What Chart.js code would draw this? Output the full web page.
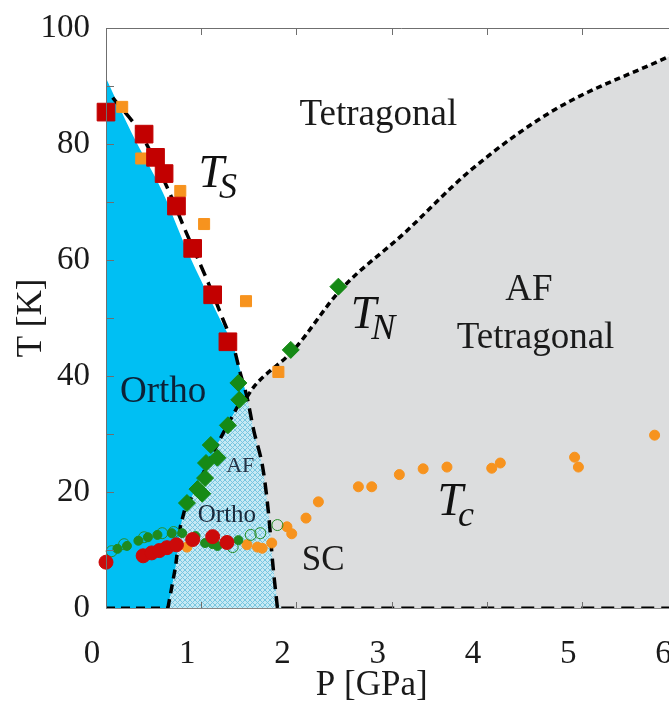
<!DOCTYPE html>
<html>
<head>
<meta charset="utf-8">
<script src="https://cdn.jsdelivr.net/npm/chart.js"></script>
<style>
  html, body { margin: 0; padding: 0; background: #fff; overflow: hidden; }
  #wrap { width: 710px; height: 703px; }
</style>
</head>
<body>
<div id="wrap"><canvas id="phaseChart" width="710" height="703"></canvas></div>
<script>
// tick labels
var xTicks = [0, 1, 2, 3, 4, 5, 6];
var yTicks = [0, 20, 40, 60, 80, 100];

// structural transition T_S (big red squares, small orange squares)
var tsRedP = [0.0, 0.40, 0.52, 0.61, 0.74, 0.91, 1.12, 1.28];
var tsRedT = [85.5, 81.7, 77.7, 74.9, 69.3, 62.0, 54.0, 45.9];
var tsOrangeP = [0.17, 0.37, 0.78, 1.03, 1.47, 1.81];
var tsOrangeT = [86.4, 77.5, 71.9, 66.2, 52.9, 40.7];

// magnetic transition T_N (green diamonds)
var tnP = [0.85, 0.96, 1.01, 1.04, 1.05, 1.10, 1.17, 1.28, 1.39, 1.40, 1.94, 2.44];
var tnT = [18.1, 20.5, 19.7, 22.4, 25.0, 28.1, 25.9, 31.5, 38.8, 35.9, 44.5, 55.4];

// superconducting Tc
var tcRedP = [0.0, 0.39, 0.48, 0.56, 0.64, 0.74, 0.91, 1.12, 1.27];
var tcRedT = [7.9, 9.0, 9.5, 9.9, 10.4, 10.9, 11.8, 12.3, 11.3];
var tcGreenP = [0.12, 0.22, 0.34, 0.44, 0.54, 0.69, 0.80, 0.94, 1.04, 1.12, 1.17, 1.39];
var tcGreenT = [10.2, 10.7, 11.6, 12.2, 12.6, 12.9, 12.9, 12.4, 11.2, 11.0, 10.7, 11.7];
var tcOpenP = [0.06, 0.19, 0.40, 0.59, 0.71, 1.33, 1.52, 1.62, 1.80];
var tcOpenT = [9.8, 11.0, 12.2, 12.9, 13.1, 10.5, 12.6, 12.9, 14.3];
var tcOrangeP = [0.85, 1.48, 1.59, 1.64, 1.74, 1.90, 1.95, 2.10, 2.23, 2.65, 2.79, 3.08, 3.33, 3.58, 4.05, 4.14, 4.92, 4.96, 5.76];
var tcOrangeT = [10.5, 10.9, 10.5, 10.3, 11.2, 14.0, 12.8, 15.5, 18.3, 20.9, 20.9, 23.0, 24.0, 24.3, 24.1, 25.0, 26.0, 24.3, 29.8];

// phase boundaries
var tsLineP = [0.07, 0.36, 0.67, 0.83, 1.06, 1.23, 1.34, 1.41, 1.48, 1.55, 1.65, 1.71, 1.75, 1.80];
var tsLineT = [88.0, 81.9, 71.5, 65.2, 56.6, 49.7, 45.0, 40.5, 36.4, 30.7, 23.8, 15.7, 7.8, 0];
var tnUpperP = [1.48, 1.55, 1.97, 2.46, 3.13, 3.83, 4.71, 5.90, 6.20];
var tnUpperT = [36.4, 38.1, 44.5, 54.8, 64.6, 75.5, 85.9, 95.0, 97.3];
var tnLowerP = [0.65, 0.73, 0.78, 0.83, 0.88, 1.18, 1.38, 1.48];
var tnLowerT = [0, 7.1, 14.0, 17.2, 18.5, 28.6, 34.7, 36.4];
var orthoP = [0, 0.27, 0.60, 0.85, 1.20, 1.34, 1.48];
var orthoT = [91.4, 81.9, 71.5, 61.7, 49.7, 45.0, 36.4];
var afOrthoP = [0.65, 0.73, 0.78, 0.83, 0.88, 1.18, 1.38, 1.48, 1.55, 1.65, 1.71, 1.75, 1.80, 1.84];
var afOrthoT = [0, 7.1, 14.0, 17.2, 18.5, 28.6, 34.7, 36.4, 30.7, 23.8, 15.7, 7.8, 1.0, 0];
var zeroLeftP = [0, 0.65];
var zeroRightP = [1.84, 6.2];

function pts(xs, ys) {
    return xs.map(function(x, i) { return { x: x, y: ys[i] }; });
}
function zeros(xs) {
    return xs.map(function(x) { return { x: x, y: 0 }; });
}

function hatchPattern() {
    var pc = document.createElement('canvas');
    pc.width = 5;
    pc.height = 5;
    var p = pc.getContext('2d');
    p.fillStyle = '#c6e9f4';
    p.fillRect(0, 0, 5, 5);
    p.strokeStyle = '#78c6e0';
    p.lineWidth = 1;
    p.beginPath();
    p.moveTo(0, 0); p.lineTo(5, 5);
    p.moveTo(5, 0); p.lineTo(0, 5);
    p.stroke();
    return p.createPattern(pc, 'repeat');
}

function lineSet(data, color, dash, width, order, smooth) {
    var ds = {
        data: data, borderColor: color, borderDash: dash, borderWidth: width,
        pointRadius: 0, fill: false, tension: 0, order: order
    };
    if (smooth) {
        ds.cubicInterpolationMode = 'monotone';
    }
    return ds;
}
function markerSet(data, style, radius, fillColor, borderColor, order) {
    return {
        data: data, showLine: false, pointStyle: style, pointRadius: radius,
        pointBackgroundColor: fillColor, pointBorderColor: borderColor,
        pointBorderWidth: 1, clip: false, order: order
    };
}

var labelsPlugin = {
    id: 'phaseLabels',
    afterDatasetsDraw: function(chart) {
        var ctx = chart.ctx, a = chart.chartArea;
        var xs = chart.scales.x, ys = chart.scales.y;
        ctx.save();
        ctx.strokeStyle = '#6f6f6f';
        ctx.lineWidth = 1;
        ctx.beginPath();
        ctx.moveTo(a.left, a.top + 0.5); ctx.lineTo(a.right, a.top + 0.5);
        ctx.moveTo(a.left + 0.5, a.top); ctx.lineTo(a.left + 0.5, a.bottom);
        for (var v = 10; v < 100; v += 10) {
            var y = Math.round(ys.getPixelForValue(v)) + 0.5;
            ctx.moveTo(a.left, y); ctx.lineTo(a.left + 8, y);
        }
        for (var k = 1; k <= 6; k++) {
            var x = Math.round(xs.getPixelForValue(k)) + 0.5;
            ctx.moveTo(x, a.top); ctx.lineTo(x, a.top + 7);
            ctx.moveTo(x, a.bottom); ctx.lineTo(x, a.bottom - 6);
        }
        ctx.stroke();
        ctx.restore();
    },
    afterDraw: function(chart) {
        var ctx = chart.ctx;
        var xs = chart.scales.x, ys = chart.scales.y;
        function px(p) { return xs.getPixelForValue(p); }
        function py(t) { return ys.getPixelForValue(t); }
        function text(s, p, t, size, color) {
            ctx.font = size + 'px "Liberation Serif"';
            ctx.fillStyle = color;
            ctx.textAlign = 'center';
            ctx.textBaseline = 'alphabetic';
            ctx.fillText(s, px(p), py(t));
        }
        function mathText(main, sub, p, t) {
            var x = px(p), y = py(t);
            ctx.textAlign = 'left';
            ctx.textBaseline = 'alphabetic';
            ctx.fillStyle = '#111';
            ctx.font = 'italic 46px "Liberation Serif"';
            ctx.fillText(main, x, y);
            var w = ctx.measureText(main).width;
            ctx.font = 'italic 36px "Liberation Serif"';
            ctx.fillText(sub, x + w - 5, y + 11);
        }
        ctx.save();
        text('Tetragonal', 2.86, 83.3, 37, '#1a1a1a');
        text('AF', 4.44, 53.1, 37, '#1a1a1a');
        text('Tetragonal', 4.51, 44.8, 37, '#1a1a1a');
        text('Ortho', 0.60, 35.5, 37, '#0c2238');
        text('AF', 1.41, 23.4, 22, '#243447');
        text('Ortho', 1.27, 14.8, 25, '#1a2a3c');
        text('SC', 2.28, 6.6, 35, '#1a1a1a');
        mathText('T', 'S', 0.97, 72.6);
        mathText('T', 'N', 2.57, 48.3);
        mathText('T', 'c', 3.48, 16.0);

        // axis titles
        ctx.fillStyle = '#1a1a1a';
        ctx.font = '35px "Liberation Serif"';
        ctx.textAlign = 'center';
        ctx.textBaseline = 'alphabetic';
        ctx.fillText('P [GPa]', px(2.79), 695);
        ctx.translate(41, py(50));
        ctx.rotate(-Math.PI / 2);
        ctx.fillText('T [K]', 0, 0);
        ctx.restore();
    }
};

window.onload = function() {
    var ctx = document.getElementById('phaseChart').getContext('2d');
    var hatch = hatchPattern();

    var greyRegion = lineSet(pts(tnUpperP, tnUpperT), '#000', [6, 4], 3.5, 20, true);
    greyRegion.fill = 'origin';
    greyRegion.backgroundColor = '#dcddde';

    var orthoRegion = lineSet(pts(orthoP, orthoT), 'rgba(0,0,0,0)', [], 0, 19, true);
    orthoRegion.fill = 'origin';
    orthoRegion.backgroundColor = '#00bff3';

    var afOrthoRegion = lineSet(pts(afOrthoP, afOrthoT), 'rgba(0,0,0,0)', [], 0, 18, false);
    afOrthoRegion.fill = 'origin';
    afOrthoRegion.backgroundColor = hatch;

    window.phaseChart = new Chart(ctx, {
        type: 'line',
        data: {
            datasets: [
                greyRegion,
                orthoRegion,
                afOrthoRegion,
                lineSet(pts(tnLowerP, tnLowerT), '#000', [9, 6], 3.5, 17, false),
                lineSet(pts(tsLineP, tsLineT), '#000', [12, 7], 3.5, 16, true),
                lineSet(zeros(zeroLeftP), '#000', [9, 6], 3, 16, false),
                lineSet(zeros(zeroRightP), '#000', [13, 7], 3, 16, false),
                markerSet(pts(tcOrangeP, tcOrangeT), 'circle', 5, '#f7931e', '#f7931e', 9),
                markerSet(pts(tcOpenP, tcOpenT), 'circle', 5.5, 'rgba(0,0,0,0)', '#2a8f2a', 8),
                markerSet(pts(tcGreenP, tcGreenT), 'circle', 4.5, '#1f8a1f', '#1f8a1f', 7),
                markerSet(pts(tcRedP, tcRedT), 'circle', 7, '#cc0a0a', '#cc0a0a', 6),
                markerSet(pts(tsOrangeP, tsOrangeT), 'rect', 7.8, '#f7931e', '#f7931e', 5),
                markerSet(pts(tsRedP, tsRedT), 'rect', 12.5, '#c20000', '#c20000', 4),
                markerSet(pts(tnP, tnT), 'rectRot', 8.5, '#168a16', '#168a16', 3)
            ]
        },
        options: {
            responsive: false,
            animation: false,
            events: [],
            layout: {
                padding: { left: 0, top: 28, right: 5, bottom: 0 }
            },
            plugins: {
                legend: { display: false },
                tooltip: { enabled: false },
                title: { display: false }
            },
            scales: {
                x: {
                    type: 'linear',
                    min: 0,
                    max: 6.2,
                    afterFit: function(scale) {
                        scale.height = 95;
                        scale.paddingLeft = 0;
                        scale.paddingRight = 0;
                    },
                    afterBuildTicks: function(scale) {
                        scale.ticks = xTicks.map(function(v) { return { value: v }; });
                    },
                    grid: { display: false, drawTicks: false },
                    border: { display: true, color: '#888' },
                    ticks: {
                        padding: 27,
                        labelOffset: -14,
                        maxRotation: 0,
                        autoSkip: false,
                        color: '#1a1a1a',
                        font: { family: 'Liberation Serif', size: 33 }
                    }
                },
                y: {
                    min: 0,
                    max: 100,
                    afterFit: function(scale) {
                        scale.width = 106;
                        scale.paddingTop = 0;
                        scale.paddingBottom = 0;
                    },
                    afterBuildTicks: function(scale) {
                        scale.ticks = yTicks.map(function(v) { return { value: v }; });
                    },
                    grid: { display: false, drawTicks: false },
                    border: { display: false },
                    ticks: {
                        padding: 16,
                        color: '#1a1a1a',
                        font: { family: 'Liberation Serif', size: 33 }
                    }
                }
            }
        },
        plugins: [labelsPlugin]
    });
};
</script>
</body>
</html>
